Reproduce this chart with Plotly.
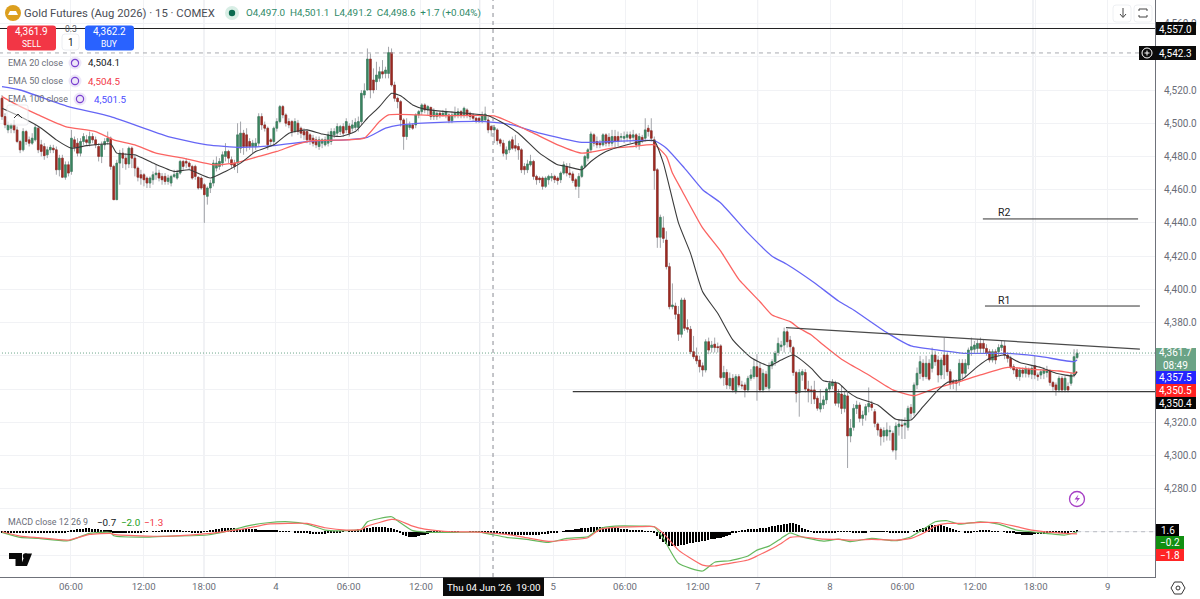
import plotly.graph_objects as go

opens = [4515,4504,4496,4497,4499,4496,4489,4484,4495,4490,
4488,4490,4497,4487,4486,4481,4484,4485,4484,4472,
4479,4467.5,4475,4471,4490,4488,4482,4489,4490,4488,
4492,4490,4486,4480,4487,4489,4491,4474,4454,4476,
4482,4479,4475.5,4485,4479,4473,4469,4469,4467,4464,
4466,4469,4470,4468,4468,4465,4464,4468,4467,4470,
4477,4477,4476,4474,4474,4467.5,4467,4463,4456,4461,
4464,4473,4474,4476,4480,4483,4478,4476,4476,4485,
4494,4493,4489,4486,4486,4488,4504,4499,4497,4490,
4489,4497,4501,4510,4505,4501,4501,4495,4500,4497,
4495,4495,4493,4491,4490,4486,4488,4487,4488,4489,
4493,4494,4495,4498,4496,4498.3,4497,4497.5,4497.5,4501,
4517,4520,4538.6,4526,4525,4527,4531,4530,4530,4542.5,
4523,4515,4513,4502,4492,4497.5,4499,4499,4505,4507,
4511,4508,4509.5,4504,4504,4506,4505,4505,4505,4501.5,
4504.5,4505,4507,4505,4508,4506,4505,4503,4503,4501.5,
4502,4502,4498,4496,4496,4490,4488,4481.5,4484,4490,
4486.5,4486,4484,4474,4472,4475,4477,4468,4467,4467,
4462,4466,4467,4468,4467,4466,4470,4474,4470,4469.5,
4466,4462,4468,4474,4479,4484,4493,4489,4488,4487,
4493,4491.5,4488,4492,4492,4491.5,4491,4491.5,4493,4491.5,
4493,4487,4491.5,4491,4497,4495.5,4490,4472,4431.4,4437,
4429.7,4413.7,4389.6,4390,4385,4373,4393.6,4377,4376,4362.5,
4360,4357.5,4354,4351.5,4368.5,4365,4367,4365.5,4366,4347,
4350,4342,4346.5,4338.5,4347.5,4342.5,4342.5,4339.5,4346.5,4347.5,
4353.5,4352.5,4339.5,4349,4340.5,4354,4356.5,4362,4365.5,4366.5,
4374.5,4369.5,4365,4350,4338,4348.5,4350,4340,4339.5,4339.5,
4334.5,4328,4330.5,4333.5,4340,4342,4343.5,4331.5,4337,4328.4,
4335.9,4311.8,4317,4328.4,4330.4,4322.4,4324.4,4329.4,4331,4326.4,
4319,4315.8,4311.8,4311.8,4314.4,4313.4,4303.3,4317.4,4318.4,4318.4,
4317,4329,4325.8,4342.5,4349.5,4355.5,4347.5,4355.5,4352.5,4360.5,
4357.5,4348.5,4360.5,4360.5,4350.5,4344.5,4344.5,4344.5,4355.5,4349.5,
4354.5,4363.5,4364,4364.5,4367.5,4367.5,4364.5,4362.5,4357.5,4362.5,
4362.5,4365,4366,4360.5,4358.5,4353.5,4352,4347.5,4351.5,4349.5,
4352,4349,4354,4348.5,4348.5,4349.5,4350,4351,4344,4342.5,
4339.5,4346.5,4339.5,4341.5,4343.5,4348.5,4359]

closes = [4504,4499,4499,4499,4496,4489,4484,4495,4489,4488,
4491,4497.5,4484,4483,4480.5,4484,4485.5,4484,4472,4479,
4467.5,4475,4470,4491,4485.5,4482,4489,4492,4488.5,4492,
4490,4487,4480,4487,4489,4491,4474,4454,4476,4482,
4479,4475.5,4485,4479,4473,4467.5,4467,4466,4464,4467,
4469,4470,4467,4466,4465,4467,4468,4469,4470,4477,
4474,4476,4474,4467,4468,4461,4461,4457,4461,4464,
4476,4476,4477,4481,4483,4479,4475,4474,4493,4494,
4486,4486,4486,4488,4488,4504,4499,4497,4487,4489,
4497,4501,4510,4505,4500,4499,4495,4501,4495,4494,
4493,4490,4490,4488,4487,4490,4490,4490,4493,4495,
4495,4498,4498,4494,4501,4494,4499,4500.5,4501,4518,
4519.5,4538.6,4520,4520,4529,4531,4529.6,4532,4542.5,4523,
4515,4513,4502,4492,4499,4499,4497,4505,4507,4511,
4508,4510,4504,4507,4506,4505,4506,4507,4501.5,4505,
4506,4507,4505,4509,4505,4504,4503,4501.5,4501.5,4505,
4505.5,4496,4496,4497.5,4489.5,4488,4482,4484,4489,4485,
4485,4484,4472,4472,4475.5,4477,4468,4466,4466,4462,
4467,4468,4468,4466,4465.5,4470,4475,4470,4469,4465.5,
4462,4468,4474,4480,4484,4493.5,4488,4487,4487,4493,
4488,4488,4492,4489,4489,4492,4492,4493,4491,4493,
4487,4492,4490,4496,4495,4491,4471.5,4431.4,4443.4,4430.7,
4413.7,4389.6,4390.6,4385,4373,4393.6,4376.6,4376,4362.5,4359.5,
4357,4353.5,4351.5,4368.5,4363.5,4366.5,4365,4365,4347,4350,
4342.5,4346.5,4339.5,4347.5,4342.5,4342,4339.5,4346.5,4348.5,4353.5,
4347.5,4339.5,4349.5,4341.5,4354,4356.5,4361.5,4367.5,4366.5,4374.5,
4368.5,4365.5,4350,4337.5,4350,4350.5,4340,4338.5,4339,4334,
4328.5,4331.5,4333.5,4340,4343.5,4344,4331.5,4337.5,4328.4,4336.4,
4311.8,4316.4,4328.4,4330.4,4322.4,4324.4,4329.4,4331.4,4329,4319.4,
4315.4,4311.4,4315,4315.4,4315,4303.3,4317.8,4319,4317.8,4319.4,
4328.4,4325.4,4342.5,4349.5,4356.5,4347.5,4355.5,4346,4360.5,4356.5,
4348.5,4357.5,4354.5,4350.5,4343.5,4344,4343.5,4355.5,4349.5,4355.5,
4363.5,4365.5,4366.5,4367.5,4364.5,4364.5,4361.5,4357.5,4362.5,4357.5,
4365,4366.5,4360.5,4358.5,4353.5,4351.5,4347.5,4351.5,4349.5,4352.5,
4349,4352.5,4348.5,4347.5,4350.5,4351.5,4351.5,4344,4341.5,4339.5,
4346.5,4339.5,4346.5,4339.5,4348.5,4359.5,4361.7]

highs = [4517,4506,4501,4500,4502,4498,4490,4497,4496,4492,
4494,4499,4498,4490,4488,4486,4487,4487,4486,4481,
4481,4477,4477,4496,4492,4491,4491,4494,4493,4495,
4494,4492,4488,4489,4491,4495,4492,4475,4478,4484,
4485,4482,4486,4486,4481,4474,4472,4470,4468,4468,
4471,4475,4472,4470,4470,4469,4469,4472,4472,4478,
4478,4479,4477,4475,4475,4468,4468,4464,4462,4466,
4478,4480,4479,4483,4488,4484,4480,4478,4500,4501,
4496,4497,4491,4490,4491,4506,4506,4501,4498,4491,
4498,4503,4511,4511,4506,4503,4502,4503,4502,4498,
4497,4496,4494,4493,4492,4492,4491,4492,4495,4497,
4497,4500,4499,4500,4503,4500,4502,4503,4504,4520,
4524,4545,4542,4533,4537,4534,4538,4534,4546,4545,
4525,4516,4514,4503,4503,4501,4500,4506,4508,4512,
4512,4511,4510,4509,4507,4507,4508,4509,4506,4507,
4510,4509,4508,4510,4509,4507,4506,4504,4504,4507,
4510,4504,4499,4499,4497,4491,4490,4486,4490,4492,
4493,4488,4485,4476,4478,4481,4478,4469,4468,4468,
4468,4469,4470,4469,4468,4471,4477,4476,4476,4471,
4467,4470,4475,4481,4485,4495,4494,4492,4490,4494,
4494,4494,4496,4496,4495,4494,4495,4495,4495,4496,
4494,4494,4493,4503,4499,4503,4492,4473,4445,4444,
4435,4416,4403.6,4392,4390,4395,4395,4382,4378,4372,
4365,4360,4356,4370,4371,4369,4371,4368,4367,4354,
4352,4350,4349,4349,4349,4345,4344,4348,4352,4358,
4361,4356,4352,4351,4356,4358,4363,4371,4369,4377,
4376,4372,4366,4351,4352,4352,4352,4345,4342,4345,
4336,4340,4336,4341,4345,4346,4345,4340,4342,4339,
4338,4322,4331,4333,4332,4327,4331,4341,4333,4328,
4320,4317,4317,4320,4318,4315,4320,4322,4322,4323,
4330,4331,4344,4353,4360,4358,4360,4358,4365,4363,
4360,4359,4371,4362,4352,4346,4346,4358,4358,4358,
4365,4371,4369,4370,4371,4370,4367,4364,4364,4364,
4367,4369,4369,4362,4360,4355,4353,4353,4353,4354,
4353,4354,4360,4350,4352,4353,4354,4352,4345,4344,
4348,4348,4348,4344,4350,4364,4364]

lows = [4502,4497,4494,4494,4494,4488,4482,4483,4487,4486,
4487,4489,4482,4480,4478,4479,4482,4482,4469,4468,
4467,4466,4468,4469,4483,4480,4480,4487,4487,4486,
4488,4485,4477,4476,4484,4487,4472,4454,4454,4463,
4473,4472,4473,4473,4468,4465,4463,4462,4461,4461,
4463,4466,4465,4463,4463,4463,4462,4467,4466,4469,
4472,4473,4472,4466,4466,4460,4460,4440,4451,4458,
4462,4471,4472,4474,4477,4476,4473,4472,4470,4482,
4481,4483,4484,4482,4484,4486,4496,4495,4484,4486,
4487,4495,4500,4503,4498,4497,4492,4494,4493,4491,
4490,4488,4487,4486,4485,4484,4485,4486,4486,4487,
4491,4492,4493,4492,4494,4492,4495,4496,4495,4499,
4515,4520,4515,4518,4520,4525,4527,4527,4527,4522,
4513,4509,4498,4484,4490,4496,4496,4497,4503,4505,
4506,4505,4502,4502,4502,4503,4504,4503,4500,4500,
4503,4503,4503,4503,4503,4502,4501,4500,4500,4500,
4501,4494,4492,4488,4487,4486,4480,4478,4482,4484,
4483,4478,4470,4469,4470,4474,4466,4463,4464,4460,
4461,4463,4465,4464,4463,4464,4469,4468,4467,4464,
4460,4455,4467,4473,4477,4482,4486,4485,4485,4486,
4486,4486,4486,4485,4486,4489,4488,4489,4488,4490,
4485,4484,4488,4489,4492,4489,4460,4425,4425,4428,
4412,4388,4388,4382,4369,4371,4375,4374,4361,4358,
4355,4350,4347.5,4350,4361,4362,4362,4362,4346,4342,
4340,4340,4338,4337,4341,4340,4335,4338,4345,4346,
4333,4338,4338,4340,4339,4352,4354,4360,4363,4362,
4365,4362,4348,4332,4323.4,4345,4338,4332,4331,4331,
4327,4326,4328,4331,4338,4340,4330,4329,4325,4326,
4292.5,4308,4315,4325,4320,4318,4321,4326,4327,4317,
4312,4306,4308,4309,4309,4302,4297.5,4312,4310,4310,
4315,4322,4324,4340,4346,4345,4346,4345,4350,4354,
4344,4346,4346,4348,4340,4340,4339,4342,4345,4347,
4352,4360,4362,4362,4362,4362,4360,4356,4356,4355,
4360,4363,4358,4356,4352,4349,4346,4345,4347,4347,
4347,4346,4346,4345,4346,4346,4347,4342,4339,4336,
4338,4338,4338,4338,4342,4347,4358]

ema20_idx = [0,6,13,18,23,28,36,38,44,50,57,62,69,74,79,84,90,95,101,106,112,117,121,125,129,132,136,140,147,154,161,165,171,178,184,187,192,195,200,207,213,216,219,224,228,232,237,242,248,254,258,262,268,272,277,280,283,290,296,301,305,310,313,318,323,327,332,337,344,349,355,356]
ema20 = [4509,4504,4497,4490,4485,4486.5,4487.5,4482,4481,4476,4471,4472,4467,4471,4476,4483,4487,4494,4496,4493.5,4492,4495,4503,4510,4518,4516.5,4511,4508.5,4507,4506,4504.5,4501,4494,4482,4475,4474,4472,4477,4483,4487,4489.5,4489.5,4476,4440,4421.7,4398.6,4385.6,4369.6,4359,4354,4357.5,4360.5,4352.5,4345,4343.5,4338.5,4335,4330.4,4321.8,4321.4,4329.4,4339.5,4344,4346,4353.5,4358.5,4360.5,4356,4353,4349.5,4348,4350.4]

ema50_idx = [0,5,12,21,31,37,44,51,60,70,77,85,91,97,103,114,120,125,128,138,145,163,169,176,184,192,202,209,216,220,222,225,232,238,244,251,255,261,264,268,272,278,287,295,302,309,316,324,333,341,350,355,356]
ema50 = [4516,4511,4505,4498,4495,4490,4487,4482,4479,4475,4476,4480,4483,4487,4489.5,4490,4491,4501,4505,4505,4504.5,4504.4,4500,4494,4487,4482,4485,4486,4487,4480,4470,4460,4437,4423,4406,4392.6,4384.6,4380.6,4376.6,4372.6,4366.5,4358,4348.5,4339.5,4336,4340.5,4343.9,4348.5,4353.1,4351.9,4350.9,4349.5,4350.5]

ema100_idx = [0,6,22,36,55,68,79,90,103,114,121,127,132,143,160,169,178,185,192,202,216,220,226,232,238,247,255,260,269,277,282,293,301,310,319,333,344,355,356]
ema100 = [4522,4520,4510,4504,4492,4487,4485.5,4486.5,4489.3,4490,4491.5,4497,4499,4500.4,4501,4499,4494,4491,4488.5,4489,4489.5,4485,4473,4460,4452,4434,4420,4415,4404,4393,4387.6,4374,4366,4363.5,4361.5,4361.5,4359.5,4356.5,4357.5]

macd_idx = [0,6,12,22,29,36,37,48,56,68,76,81,88,95,101,107,114,119,121,129,131,136,140,149,158,167,173,181,187,194,198,203,211,216,219,224,232,236,241,247,250,254,258,261,264,272,277,281,288,296,301,306,309,313,317,324,330,336,341,352,356]
macd_line = [-0.6,-4.8,-5.7,-7.7,-1.4,-0.6,-3.4,-4.6,-3.7,-2.8,1.4,4.8,7.7,8.5,6.5,1.4,0.9,2,8.5,12.8,9.4,0.9,-0.3,-0.6,-0.3,-4.8,-6.3,-9.1,-5.7,-4.3,2.8,4.8,4.8,4.3,-5.7,-27,-33.6,-26.1,-24.8,-20.8,-15.7,-12.3,-5.7,-0.9,-3.7,-8,-6.3,-8.5,-5.7,-7.7,-4.3,3.7,8.5,9.4,6.5,8.5,6.5,1.4,0,-2.8,-0.2]
signal_line = [0,-3.7,-5.1,-7.1,-2.3,-1.4,-2.3,-3.7,-3.7,-1.7,0.9,2.8,6.5,7.1,7.1,3.4,1.4,2,4.8,10.5,10,4.8,2.3,0,-0.3,-2.3,-4.8,-8.3,-7.1,-5.1,2,3.7,4.3,4.3,-1.4,-15.7,-28.5,-29.3,-27,-24.2,-20.8,-15.7,-10,-4.8,-4.3,-6.3,-6.6,-7.1,-6.6,-7.1,-5.7,0,4.8,7.1,7.1,8,7.7,4.3,1.4,-1.4,-1.8]

histogram = [-0.8,-0.8,-0.9,-1,-1,-1,-0.9,-0.8,
-0.7,-0.6,-0.5,-0.5,-0.4,-0.4,-0.3,-0.3,-0.3,-0.4,-0.5,-0.6,-0.6,
-0.4,0.2,0.8,1.4,2,2.4,2.6,
2.8,2.8,2.6,2.4,2.2,1.8,1.4,1,0.8,-0.4,
-0.6,-0.6,-0.5,-0.5,-0.4,-0.4,-0.3,-0.3,-0.3,-0.2,-0.2,0,0.2,0.4,0.6,0.8,1,1.2,
1.4,1.4,1.2,0.8,0.5,0.2,-0.2,-0.4,-0.6,-0.6,-0.4,
0.2,0.6,1,1.4,2,2.4,2.8,3,3,2.8,2.8,2.6,2.6,
2.4,2.4,2.2,2,2,1.8,1.6,1.4,1.2,1,1,0.8,0.6,0.6,0.4,0.4,
0,-0.4,-0.6,-0.8,-1,-1.4,-1.6,-1.8,-2,-2,-1.8,-1.6,-1.2,-0.8,-0.6,-0.4,-0.4,
-0.2,0,0.4,1,1.6,2,2.4,3,
3.4,3.6,3.8,4,4.2,4,3.8,3.6,3.2,2.6,1.6,
-1,-2.6,-3.8,-4.6,-4.9,-4.6,-4,-3.2,-2.4,-1.6,-1.2,
-0.8,-0.6,-0.5,-0.4,-0.3,-0.2,-0.2,-0.1,-0.1,0,0,0,-0.1,-0.2,-0.2,-0.2,-0.3,-0.5,-0.8,-1,-1.3,-1.6,-1.8,
-2,-2.2,-2.4,-2.4,-2.6,-2.6,-2.8,-2.8,-3,-3,-2.8,-2.6,-2.4,-2.2,-2,-1.6,-1.2,-0.8,
-0.4,0,0.4,0.8,1.2,1.6,2,2.4,2.8,3.2,3.6,4,4.2,4.2,4,
3.8,3.6,3.4,3.2,3,2.8,2.6,2.4,2,1.8,1.6,1.2,1,0.8,0.6,0.4,0.2,
-1,-3.5,-6,-8.5,-10.5,-12,-12.5,-12.5,-12,-11.5,-11,-10.5,-10,-9.5,-9,-8.5,-8,
-7.5,-7,-6.5,-6,-5.5,-5,-4.5,-3.5,-2.5,-1.5,-1,
0.5,1,1.5,2,2,2.5,2.5,3,3.5,3.5,4,4.5,5,5.5,6,6.5,7,7.2,7.2,6.8,5.5,3.5,
2,1,0.5,-0.5,-1,-1.2,-1.4,-1.4,-1.2,-1,-0.6,
-0.2,0.2,0.4,0.4,-0.2,-0.6,-1,-1,-0.8,-0.4,0,0.4,0.6,0.6,0.4,0.2,-0.2,-0.6,-0.8,-1,-1,-1,-0.8,-0.4,
0,0.6,1.4,2.4,3.4,4.4,5.2,5.8,6,6,5.4,4.6,3.8,3,2,1,0.4,0,
-0.5,-0.8,-0.6,-0.2,0.4,0.8,1,1,0.8,0.6,0.4,0.2,0,-0.2,-0.4,-0.8,-1.2,
-1.8,-2.2,-2.4,-2.6,-2.6,-2.4,-2.2,-2,-1.8,-1.6,-1.4,-1.2,-1.2,-1.4,-1.4,-1.2,-1,-0.7,-0.2,0.6,1.6]

tick_pos = [22.8,46.9,66.9,90.7,114.8,138.7,182.5,206.3,230.4,250.2,274.2,298.2,322.2,342.3,366.1]
tick_text = ["06:00","12:00","18:00","4","06:00","12:00","5","06:00","12:00","7","8","06:00","12:00","18:00","9"]
price_ticks = [4280,4300,4320,4340,4360,4380,4400,4420,4440,4460,4480,4500,4520,4540,4560]
price_text = ["4,280.0","4,300.0","4,320.0","","","4,380.0","4,400.0","4,420.0","4,440.0","4,460.0","4,480.0","4,500.0","4,520.0","","4,560.0"]
session_opens = [66.9,158.2,250.2,341.4]

last_price = 4361.7
level_top = 4557.0
level_dash = 4542.3
level_support = 4338.5
level_r1 = 4390
level_r2 = 4442.4
trend_idx = [259.6,376.8]
trend_val = [4377,4364.1]
r1_idx = [325.5,376.8]
r2_idx = [324.8,376.2]
cursor_idx = 162.6
support_start = 189.0

n = len(closes)
assert len(opens) == n and len(highs) == n and len(lows) == n and len(histogram) == n
assert len(ema20) == len(ema20_idx) and len(ema50) == len(ema50_idx) and len(ema100) == len(ema100_idx)
assert len(macd_line) == len(macd_idx) and len(signal_line) == len(macd_idx)
xs = list(range(n))

W, H = 1155.0, 577.0
GREEN, RED = "#3a8560", "#9c2a22"
FONT = "Roboto"

def px(x): return x / W
def py(y): return 1 - y / H

fig = go.Figure()
fig.add_trace(go.Candlestick(x=xs, open=opens, high=highs, low=lows, close=closes,
    increasing=dict(line=dict(color="#a3a5aa", width=1), fillcolor="#a3a5aa"),
    decreasing=dict(line=dict(color="#a3a5aa", width=1), fillcolor="#a3a5aa"),
    whiskerwidth=0, hoverinfo="skip", showlegend=False))
fig.add_trace(go.Candlestick(x=xs, open=opens, close=closes,
    high=[max(a, b) for a, b in zip(opens, closes)], low=[min(a, b) for a, b in zip(opens, closes)],
    increasing=dict(line=dict(color=GREEN, width=0.6), fillcolor=GREEN),
    decreasing=dict(line=dict(color=RED, width=0.6), fillcolor=RED),
    whiskerwidth=0, hoverinfo="skip", showlegend=False))

for xv, yv, col, wd in [(ema100_idx, ema100, "#6666f5", 1.3), (ema50_idx, ema50, "#fb6462", 1.3), (ema20_idx, ema20, "#3a3a3a", 1.1)]:
    fig.add_trace(go.Scatter(x=xv, y=yv, mode="lines", line=dict(color=col, width=wd, shape="spline", smoothing=0.5),
                             hoverinfo="skip", showlegend=False))

fig.add_trace(go.Bar(x=xs, y=histogram, yaxis="y2", marker=dict(color="#000000", line=dict(width=0)), width=0.55,
                     hoverinfo="skip", showlegend=False))
fig.add_trace(go.Scatter(x=macd_idx, y=macd_line, yaxis="y2", mode="lines",
                         line=dict(color="#66b85e", width=1.2, shape="spline", smoothing=0.5), hoverinfo="skip", showlegend=False))
fig.add_trace(go.Scatter(x=macd_idx, y=signal_line, yaxis="y2", mode="lines",
                         line=dict(color="#fb6a68", width=1.2, shape="spline", smoothing=0.5), hoverinfo="skip", showlegend=False))

shapes = []
def data_line(x0, y0, x1, y1, color="#3f3f3f", width=1.1, dash="solid", yref="y"):
    shapes.append(dict(type="line", xref="x", yref=yref, x0=x0, y0=y0, x1=x1, y1=y1, line=dict(color=color, width=width, dash=dash)))

def rect(x0, y0, x1, y1, fill, line=None, layer="above"):
    shapes.append(dict(type="rect", xref="paper", yref="paper", x0=px(x0), x1=px(x1), y0=py(y1), y1=py(y0),
                       fillcolor=fill, line=dict(color=line or fill, width=1 if line else 0), layer=layer))

def rrect(x0, y0, x1, y1, r, fill, line=None):
    p = f"M{px(x0+r)},{py(y0)} L{px(x1-r)},{py(y0)} Q{px(x1)},{py(y0)} {px(x1)},{py(y0+r)} L{px(x1)},{py(y1-r)} Q{px(x1)},{py(y1)} {px(x1-r)},{py(y1)} L{px(x0+r)},{py(y1)} Q{px(x0)},{py(y1)} {px(x0)},{py(y1-r)} L{px(x0)},{py(y0+r)} Q{px(x0)},{py(y0)} {px(x0+r)},{py(y0)} Z"
    shapes.append(dict(type="path", xref="paper", yref="paper", path=p, fillcolor=fill, line=dict(color=line or fill, width=1 if line else 0)))

def circle(cx, cy, r, fill="rgba(0,0,0,0)", line=None, width=1):
    shapes.append(dict(type="circle", xref="paper", yref="paper", x0=px(cx-r), x1=px(cx+r), y0=py(cy+r), y1=py(cy-r),
                       fillcolor=fill, line=dict(color=line or fill, width=width if line else 0)))

def poly(points, fill=None, line=None, width=1):
    p = "M" + " L".join(f"{px(a)},{py(b)}" for a, b in points)
    d = dict(type="path", xref="paper", yref="paper", line=dict(color=line or "rgba(0,0,0,0)", width=width if line else 0))
    if fill:
        p += " Z"
        d["fillcolor"] = fill
    d["path"] = p
    shapes.append(d)

for s in session_opens:
    shapes.append(dict(type="line", xref="x", yref="paper", x0=s, x1=s, y0=0, y1=1, line=dict(color="#e7e9ee", width=1.2), layer="below"))

shapes.append(dict(type="line", xref="x", yref="paper", x0=cursor_idx, x1=cursor_idx, y0=0, y1=1, line=dict(color="#8a8c94", width=1, dash="4px,4px")))
data_line(-1, level_top, 382, level_top, color="#222222", width=1.1)
data_line(-1, level_dash, 376.5, level_dash, color="#a8aab0", width=1, dash="4px,4px")
data_line(-1, last_price, 382, last_price, color="#6aa488", width=1, dash="1px,2px")
data_line(support_start, level_support, 382, level_support, color="#3a3a3a", width=1.3)
data_line(trend_idx[0], trend_val[0], trend_idx[1], trend_val[1], color="#4a4a4a", width=1.2)
data_line(r1_idx[0], level_r1, r1_idx[1], level_r1, color="#333333", width=1)
data_line(r2_idx[0], level_r2, r2_idx[1], level_r2, color="#333333", width=1)
data_line(356, 0, 382, 0, color="#b8bac0", width=1, dash="4px,4px", yref="y2")

# header widgets
circle(13, 13, 8, fill="#dc9f1e")
poly([(8, 15), (18, 15), (16, 11), (10, 11)], fill="#ffffff")
circle(232, 13, 7, fill="#d8eee5")
circle(232, 13, 3.2, fill="#0a6b50")
rrect(7, 25.5, 56, 50.5, 3, "#f23645")
rrect(85, 25.5, 134, 50.5, 3, "#2962ff")
rrect(62, 34, 79, 50, 3, "#ffffff", line="#eceef2")
rrect(7, 105, 28, 125, 2, "rgba(255,255,255,0.55)", line="rgba(225,227,232,0.7)")
poly([(14, 118), (18, 114), (22, 118)], line="#333333", width=1)
rrect(1113, 5, 1131, 22, 3, "#ffffff", line="#eef0f3")
rrect(1134, 5, 1152, 22, 3, "#ffffff", line="#eef0f3")
poly([(1123, 8), (1123, 17)], line="#444444", width=1)
poly([(1120, 14), (1123, 17.5), (1126, 14)], line="#444444", width=1)
poly([(1139, 11), (1139, 9), (1147, 9), (1147, 11)], line="#444444", width=1)
poly([(1139, 15), (1139, 17), (1147, 17), (1147, 15)], line="#444444", width=1)
for i, y0 in enumerate([63, 81, 99]):
    cx = 75 if i < 2 else 80
    circle(cx, y0, 6.5, fill="#ede7f8")
    circle(cx, y0, 3.6, line="#7a3fd0", width=1.2)

# right scale labels
rect(1156, 22, 1196, 35, "#0b0b0b")
rect(1139, 46, 1196, 60, "#0b0b0b")
circle(1147, 53, 5, line="#ffffff", width=1)
poly([(1144.5, 53), (1149.5, 53)], line="#ffffff", width=1)
poly([(1147, 50.5), (1147, 55.5)], line="#ffffff", width=1)
rect(1156, 348, 1196, 371, "#6aa386")
rect(1156, 371, 1196, 384, "#2424ff")
rect(1156, 384, 1196, 397, "#ff2222")
rect(1156, 397, 1196, 409, "#050505")
rect(1156, 524, 1179, 536, "#000000")
rect(1156, 536, 1184, 549, "#118f11")
rect(1156, 549, 1184, 561, "#ff2525")
rect(443, 577.5, 544, 596, "#0b0b0b")

# TV logo
poly([(9, 553), (22, 553), (22, 566), (15.5, 566), (15.5, 559), (9, 559)], fill="#0a0a0a")
circle(25.5, 556, 2.7, fill="#0a0a0a")
poly([(27, 566), (20.5, 566), (25.5, 553.5), (32, 553.5)], fill="#0a0a0a")
# alert and settings icons
circle(1077, 499, 7.5, line="#a63fc5", width=1.3)
poly([(1078.5, 494.5), (1074.5, 499.5), (1077.5, 499.5), (1075.5, 503.5), (1080, 498), (1077.2, 498)], fill="#a63fc5")
poly([(1171, 588), (1174.5, 582), (1181.5, 582), (1185, 588), (1181.5, 594), (1174.5, 594)], fill="#ffffff", line="#333333", width=1)
circle(1178, 588, 2, line="#333333", width=1)

annots = []
def text(x, y, s, color="#6a6d78", size=10, anchor="left", fam=FONT):
    annots.append(dict(xref="paper", yref="paper", x=px(x), y=py(y), text=s, showarrow=False, xanchor=anchor, yanchor="middle",
                       borderpad=0, font=dict(family=fam, size=size, color=color), align="center"))

text(23, 13, "Gold Futures (Aug 2026) · 15 · COMEX", color="#4a4d55", size=11.3)
text(245, 13, "O4,497.0  H4,501.1  L4,491.2  C4,498.6  +1.7 (+0.04%)", color="#2f8a68", size=9.9)
text(31.5, 32, "4,361.9", color="#ffffff", size=10, anchor="center")
text(31.5, 43.5, "SELL", color="#ffffff", size=8.5, anchor="center")
text(109.5, 32, "4,362.2", color="#ffffff", size=10, anchor="center")
text(109.5, 43.5, "BUY", color="#ffffff", size=8.5, anchor="center")
text(70.5, 29, "0.3", color="#55585f", size=8.5, anchor="center")
text(70.5, 42.5, "1", color="#131722", size=10, anchor="center")
text(7, 63, "EMA 20 close", size=9)
text(87, 63, "4,504.1", color="#131722", size=9.8)
text(7, 81, "EMA 50 close", size=9)
text(87, 81, "4,504.5", color="#f23645", size=9.8)
text(7, 99, "EMA 100 close", size=9)
text(93, 99, "4,501.5", color="#4a4aff", size=9.8)
text(1004, 212, "R2", color="#222222", size=10.5, anchor="center")
text(1004, 300, "R1", color="#222222", size=10.5, anchor="center")
text(1176, 29, "4,557.0", color="#ffffff", size=10, anchor="center")
text(1176, 53, "4,542.3", color="#ffffff", size=10, anchor="center")
text(1176, 359, "4,361.7<br>08:49", color="#ffffff", size=10, anchor="center")
text(1176, 377.5, "4,357.5", color="#ffffff", size=10, anchor="center")
text(1176, 390.5, "4,350.5", color="#ffffff", size=10, anchor="center")
text(1176, 403, "4,350.4", color="#ffffff", size=10, anchor="center")
text(1167.5, 530, "1.6", color="#ffffff", size=10, anchor="center")
text(1170, 542.5, "−0.2", color="#ffffff", size=10, anchor="center")
text(1170, 555, "−1.8", color="#ffffff", size=10, anchor="center")
text(7, 522, "MACD close 12 26 9", size=8.9)
text(96, 522, "−0.7", color="#131722", size=9.8)
text(120, 522, "−2.0", color="#22a022", size=9.8)
text(143, 522, "−1.3", color="#f23645", size=9.8)
text(493.5, 587, "Thu 04 Jun ’26  19:00", color="#ffffff", size=9.8, anchor="center")

fig.update_layout(
    width=1200, height=599, margin=dict(l=0, r=45, t=0, b=22),
    paper_bgcolor="#ffffff", plot_bgcolor="#ffffff", showlegend=False, boxgap=0.22, bargap=0,
    font=dict(family=FONT),
    shapes=shapes, annotations=annots,
    xaxis=dict(range=[-0.66, 381.8], anchor="y2", tickvals=tick_pos, ticktext=tick_text, showgrid=True, gridcolor="#f1f2f5", gridwidth=1,
               showline=True, linecolor="#6f727a", linewidth=1, zeroline=False, ticks="", rangeslider=dict(visible=False),
               tickfont=dict(family=FONT, size=9.6, color="#6a6d78"), tickangle=0, automargin=False),
    yaxis=dict(domain=[71 / H, 1], range=[4269.65, 4574.16], side="right", anchor="x", tickvals=price_ticks, ticktext=price_text,
               showgrid=True, gridcolor="#f1f2f5", gridwidth=1, zeroline=False, showline=True, linecolor="#6f727a", linewidth=1, ticks="",
               tickfont=dict(family=FONT, size=10, color="#6a6d78"), automargin=False, ticklabelstandoff=6),
    yaxis2=dict(domain=[0, 71 / H], range=[-38.7, 22], side="right", anchor="x", tickvals=[-20, 0, 20], showticklabels=False,
                showgrid=True, gridcolor="#f1f2f5", gridwidth=1, zeroline=False, showline=True, linecolor="#6f727a", linewidth=1, ticks=""),
)

fig.write_html("out.html", config={"displayModeBar": False},
               post_script="document.body.style.margin='0';document.documentElement.style.overflow='hidden';")
